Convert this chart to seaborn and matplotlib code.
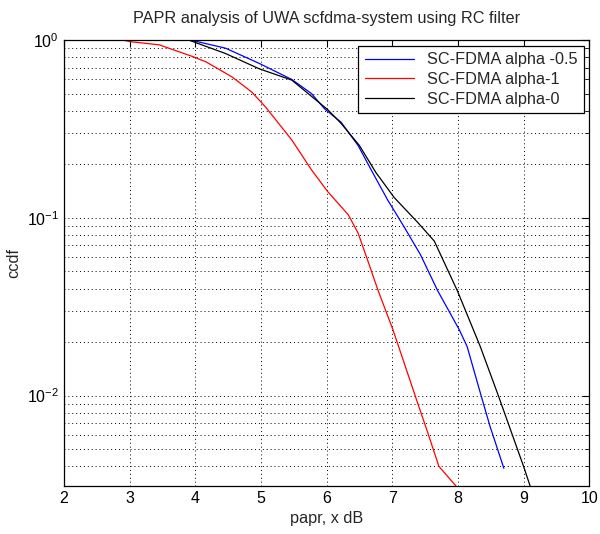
import numpy as np
import pandas as pd
import matplotlib
matplotlib.use("Agg")
import matplotlib.pyplot as plt
import seaborn as sns

# values
papr_a05 = [3.9, 4.03, 4.46, 4.97, 5.47, 5.77, 5.97, 6.22, 6.48, 6.7, 6.93, 7.18, 7.43, 7.69, 8.02, 8.14, 8.34, 8.49, 8.70]
ccdf_a05 = [1.0, 0.98, 0.90, 0.74, 0.60, 0.50, 0.41, 0.345, 0.255, 0.18, 0.126, 0.089, 0.062, 0.039, 0.0235, 0.0189, 0.0104, 0.0067, 0.0039]

papr_a1 = [2.9, 3.0, 3.45, 3.95, 4.16, 4.56, 4.86, 5.07, 5.47, 5.77, 6.02, 6.33, 6.48, 6.63, 6.78, 7.01, 7.18, 7.39, 7.54, 7.71, 7.97]
ccdf_a1 = [1.0, 0.98, 0.94, 0.81, 0.755, 0.62, 0.51, 0.42, 0.274, 0.186, 0.14, 0.104, 0.082, 0.057, 0.0394, 0.0235, 0.0153, 0.009, 0.0062, 0.004, 0.0031]

papr_a0 = [3.9, 4.03, 4.46, 4.97, 5.47, 5.87, 6.02, 6.22, 6.5, 6.75, 7.03, 7.39, 7.64, 7.99, 8.34, 8.62, 9.0, 9.1]
ccdf_a0 = [1.0, 0.96, 0.84, 0.69, 0.595, 0.45, 0.405, 0.34, 0.255, 0.18, 0.13, 0.094, 0.074, 0.039, 0.0189, 0.0099, 0.0040, 0.0031]

labels = ["SC-FDMA alpha -0.5", "SC-FDMA alpha-1", "SC-FDMA alpha-0"]
colors = ["#0000ff", "#ff0000", "#000000"]

df = pd.concat([
    pd.DataFrame({"papr": papr_a05, "ccdf": ccdf_a05, "series": labels[0]}),
    pd.DataFrame({"papr": papr_a1, "ccdf": ccdf_a1, "series": labels[1]}),
    pd.DataFrame({"papr": papr_a0, "ccdf": ccdf_a0, "series": labels[2]}),
])

sns.set_style("white")
plt.rcParams["font.family"] = ["Liberation Sans", "DejaVu Sans"]
plt.rcParams["mathtext.fontset"] = "custom"
plt.rcParams["mathtext.rm"] = "Liberation Sans"
plt.rcParams["mathtext.it"] = "Liberation Sans"

fig = plt.figure(figsize=(6.0, 5.34), dpi=100)
ax = fig.add_axes([0.1067, 0.0899, 0.8753, 0.8351])

sns.lineplot(data=df, x="papr", y="ccdf", hue="series", hue_order=labels,
             palette=colors, sort=False, estimator=None, linewidth=0.9, ax=ax)

ax.set_yscale("log")
ax.set_xlim(2, 10)
ax.set_ylim(0.0031, 1)
ax.set_xticks(range(2, 11))

ax.grid(True, which="major", axis="both", linestyle=(0, (1, 3)), color="black", linewidth=0.7)
ax.grid(True, which="minor", axis="y", linestyle=(0, (1, 3)), color="black", linewidth=0.7)

ax.tick_params(which="both", direction="in", top=True, right=True, labelsize=11.5, colors="black")
ax.tick_params(which="major", length=5)
ax.tick_params(which="minor", length=3)
for s in ax.spines.values():
    s.set_color("black")
    s.set_linewidth(0.9)

ax.set_title("PAPR analysis of UWA scfdma-system using RC filter", fontsize=11.7, pad=12)
ax.set_xlabel("papr, x dB", fontsize=11.7)
ax.set_ylabel("ccdf", fontsize=11.7)

leg = ax.legend(loc="upper right", fontsize=11.7, frameon=True, fancybox=False,
                framealpha=1, edgecolor="black", handlelength=3.0,
                borderaxespad=0.35, labelspacing=0.3)
leg.get_frame().set_linewidth(0.9)

fig.savefig("out.png", dpi=100)
